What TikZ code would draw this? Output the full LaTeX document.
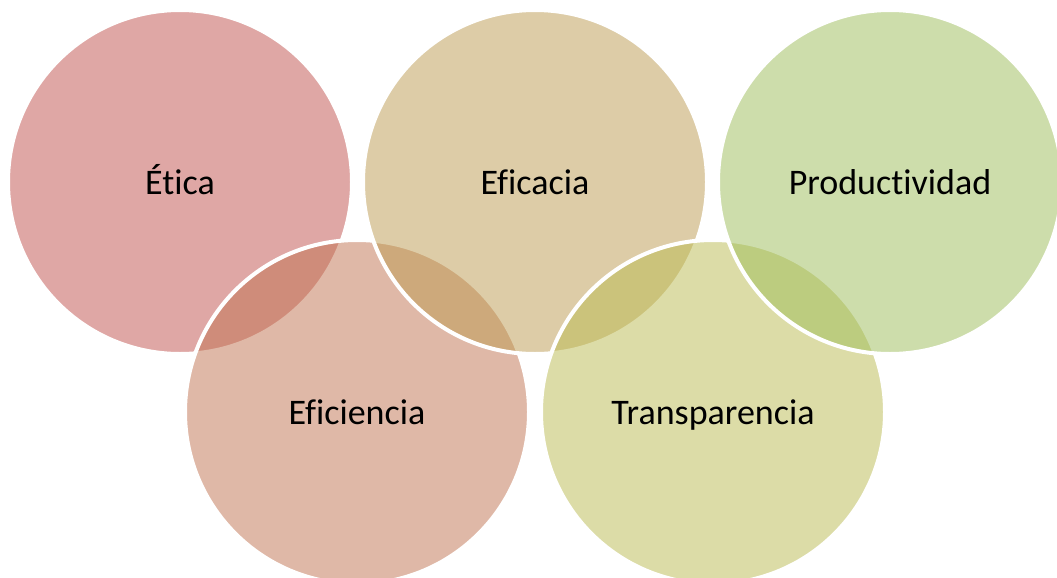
\documentclass[tikz,border=0pt]{standalone}
\usepackage{fontspec}
\setmainfont{Carlito}[Ligatures={NoCommon},RawFeature={-liga;-clig;-calt}]
\definecolor{cEtica}{HTML}{C0504D}
\definecolor{cEficiencia}{HTML}{C17351}
\definecolor{cEficacia}{HTML}{BD9B51}
\definecolor{cTransp}{HTML}{BBBB51}
\definecolor{cProd}{HTML}{9DBD59}
\tikzset{
  ring/.style={circle, minimum size=344pt, inner sep=0pt, text height=24pt, text depth=0pt, draw=white, line width=4pt, fill opacity=0.5, text opacity=1, draw opacity=1, font=\fontsize{36}{40}\selectfont, text=black}
}
\begin{document}
\begin{tikzpicture}[x=1pt,y=-1pt]
\useasboundingbox (0,0) rectangle (1057,578);
\clip (0,0) rectangle (1057,578);
\fill[white] (0,0) rectangle (1057,578);
\node[ring, fill=cEtica] (etica) at (180,182) {Ética};
\node[ring, fill=cEficiencia] (eficiencia) at (357,412) {Eficiencia};
\node[ring, fill=cEficacia] (eficacia) at (535,182) {Eficacia};
\node[ring, fill=cTransp] (transp) at (713,412) {Transparencia};
\node[ring, fill=cProd] (prod) at (890,182) {Productividad};
\end{tikzpicture}
\end{document}
